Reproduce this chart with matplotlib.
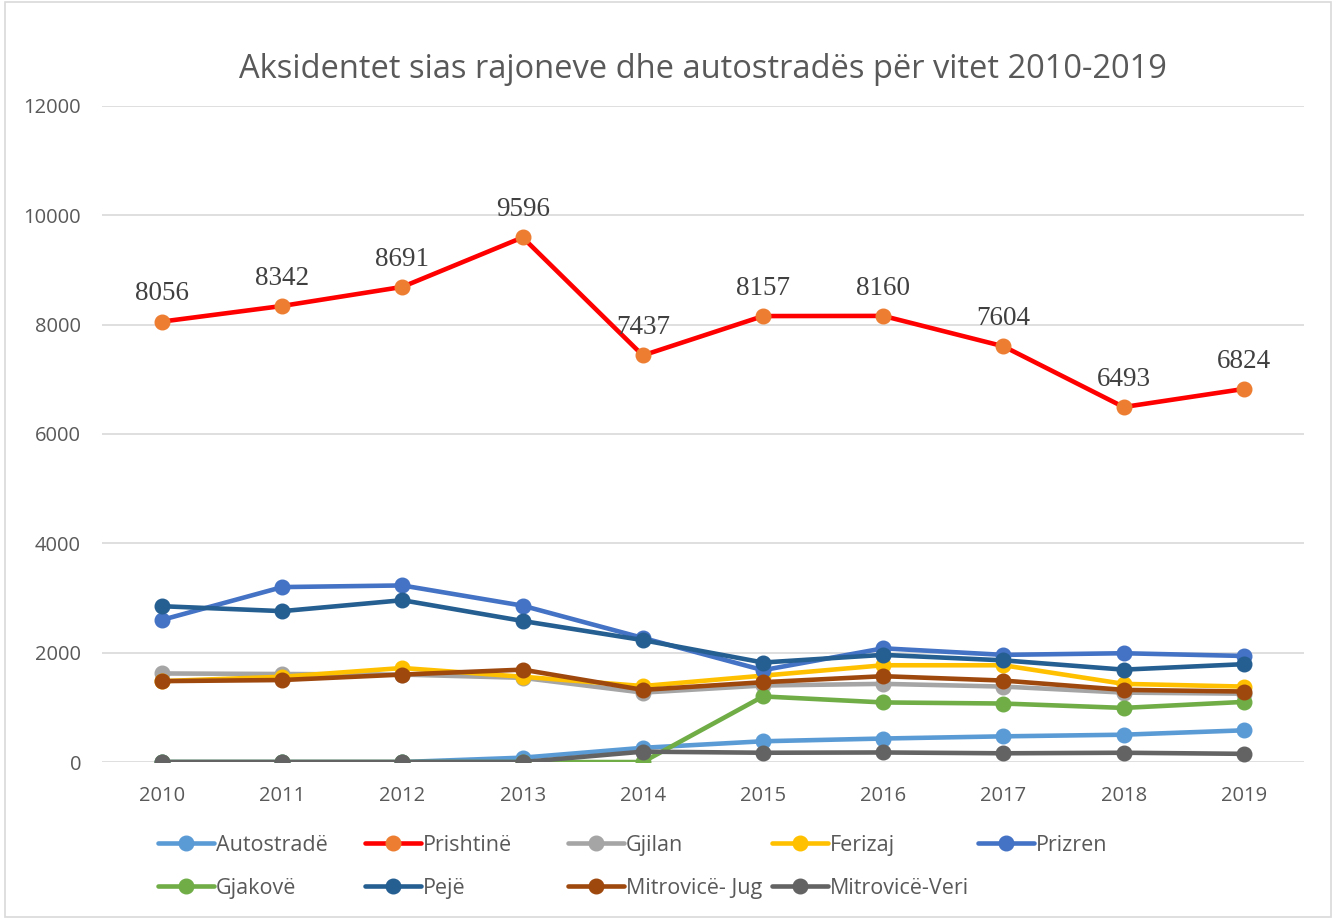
import matplotlib
matplotlib.use("Agg")
import matplotlib.pyplot as plt
from matplotlib.patches import Rectangle

years = [2010, 2011, 2012, 2013, 2014, 2015, 2016, 2017, 2018, 2019]

autostrade = [0, 0, 0, 80, 260, 380, 430, 470, 500, 580]
prishtine = [8056, 8342, 8691, 9596, 7437, 8157, 8160, 7604, 6493, 6824]
gjilan = [1620, 1610, 1600, 1540, 1270, 1400, 1430, 1380, 1270, 1250]
ferizaj = [1480, 1560, 1720, 1560, 1390, 1580, 1770, 1770, 1430, 1380]
prizren = [2600, 3200, 3230, 2860, 2270, 1680, 2080, 1960, 1990, 1940]
gjakove = [0, 0, 0, 0, 0, 1200, 1090, 1070, 990, 1100]
peje = [2850, 2760, 2960, 2580, 2230, 1820, 1960, 1860, 1690, 1790]
mitrovice_jug = [1480, 1500, 1600, 1690, 1320, 1460, 1570, 1490, 1320, 1290]
mitrovice_veri = [0, 0, 0, 0, 190, 170, 175, 160, 170, 150]

series = [
    ("Autostradë", autostrade, "#5B9BD5", "#5B9BD5"),
    ("Prishtinë", prishtine, "#FF0000", "#ED7D31"),
    ("Gjilan", gjilan, "#A5A5A5", "#A5A5A5"),
    ("Ferizaj", ferizaj, "#FFC000", "#FFC000"),
    ("Prizren", prizren, "#4472C4", "#4472C4"),
    ("Gjakovë", gjakove, "#70AD47", "#70AD47"),
    ("Pejë", peje, "#255E91", "#255E91"),
    ("Mitrovicë- Jug", mitrovice_jug, "#9E480E", "#9E480E"),
    ("Mitrovicë-Veri", mitrovice_veri, "#636363", "#636363"),
]

text_color = "#595959"
plt.rcParams["font.family"] = ["Open Sans", "DejaVu Sans"]

fig = plt.figure(figsize=(13.36, 9.19), dpi=100)
ax = fig.add_axes([0.0763, 0.1708, 0.8997, 0.7139])

handles = []
for name, values, color, mcolor in series:
    line, = ax.plot(years, values, color=color, lw=3.3, marker="o",
                    markersize=10.5, markerfacecolor=mcolor,
                    markeredgecolor=mcolor, solid_capstyle="round",
                    label=name)
    handles.append(line)

for x, y in zip(years, prishtine):
    ax.annotate(str(y), (x, y), xytext=(0, 11), textcoords="offset points",
                ha="center", va="bottom", fontsize=19.5,
                family="Liberation Serif", color="#404040")

ax.set_xlim(2009.5, 2019.5)
ax.set_ylim(0, 12000)
ax.set_yticks(range(0, 12001, 2000))
ax.set_xticks(years)
ax.grid(axis="y", color="#D9D9D9", lw=1.2)
ax.set_axisbelow(True)
for side in ["top", "right", "left", "bottom"]:
    ax.spines[side].set_visible(False)
ax.tick_params(length=0, labelsize=14.5, colors=text_color)
ax.tick_params(axis="y", pad=15)
ax.tick_params(axis="x", pad=17)

ax.set_title("Aksidentet sias rajoneve dhe autostradës për vitet 2010-2019",
             fontsize=23.5, color=text_color, pad=20)

# legend laid out in a fixed grid like the Excel one
col_x = [0.118, 0.273, 0.425, 0.578, 0.732]
row_y = [0.0805, 0.0337]
for i, (h, (name, *_)) in enumerate(zip(handles, series)):
    leg = fig.legend([h], [name], loc="center left",
                     bbox_to_anchor=(col_x[i % 5], row_y[i // 5]),
                     frameon=False, fontsize=15.5, handlelength=2.6,
                     handletextpad=0.1, borderaxespad=0, borderpad=0)
    for t in leg.get_texts():
        t.set_color(text_color)

fig.patches.append(Rectangle((0.004, 0.002), 0.992, 0.996,
                             transform=fig.transFigure, fill=False,
                             edgecolor="#D9D9D9", lw=1.2))

fig.savefig("out.png", dpi=100)
